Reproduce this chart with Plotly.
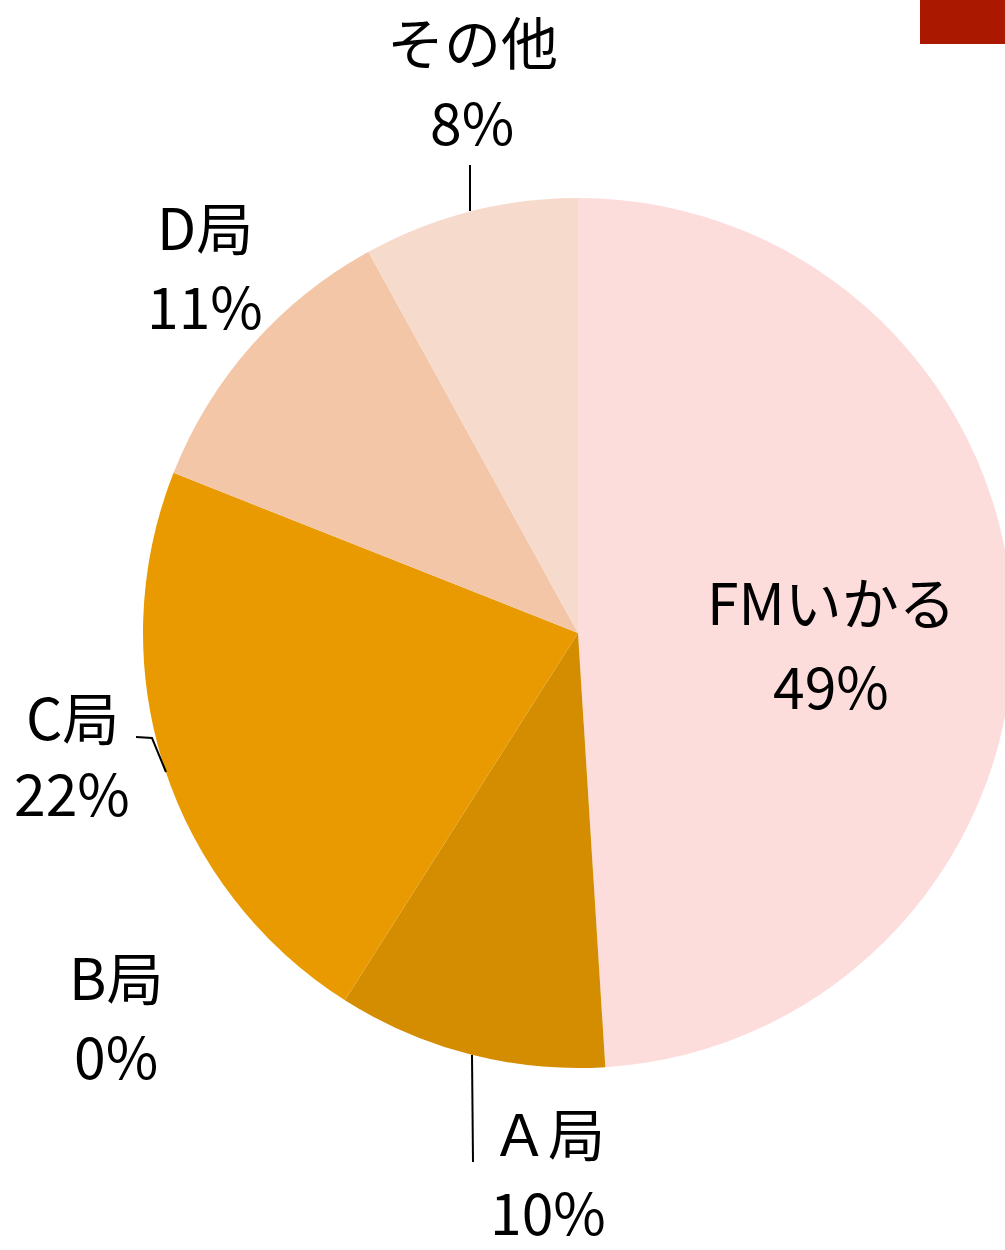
import plotly.graph_objects as go

# ---- data ----
categories = ["FMいかる", "Ａ局", "B局", "C局", "D局", "その他"]
values = [49, 10, 0, 22, 11, 8]
colors = ["#FDDCDC", "#D48C00", "#B5651D", "#E89A00", "#F3C6A8", "#F6DACB"]

# ---- layout constants (pixels) ----
W, H = 1020, 1250
cx, cy, R = 578, 633, 435

def px(x):
    return x / W

def py(y):
    return 1 - y / H

# label line centers (pixels): (x, y of name line, y of percent line)
label_pos = {
    "FMいかる": (831, 600, 684),
    "Ａ局": (548, 1131, 1210),
    "B局": (116, 975, 1054),
    "C局": (72, 715, 791),
    "D局": (205, 225, 304),
    "その他": (472, 40, 120),
}

fig = go.Figure(go.Pie(
    labels=categories,
    values=values,
    marker=dict(colors=colors, line=dict(width=0)),
    sort=False,
    direction="clockwise",
    rotation=0,
    textinfo="none",
    hoverinfo="label+percent",
    domain=dict(x=[px(cx - R), px(cx + R)], y=[py(cy + R), py(cy - R)]),
    showlegend=False,
))

font = dict(family="Noto Sans CJK JP, sans-serif", size=57, color="black")
total = sum(values)
for c, v in zip(categories, values):
    x, y1, y2 = label_pos[c]
    for txt, yy in ((c, y1), (f"{round(100 * v / total)}%", y2)):
        fig.add_annotation(
            x=px(x), y=py(yy), xref="paper", yref="paper",
            text=txt, showarrow=False, font=font, align="center",
            xanchor="center", yanchor="middle",
        )

line = dict(color="black", width=2)
# leader lines
fig.add_shape(type="line", xref="paper", yref="paper",
              x0=px(470), y0=py(165), x1=px(470), y1=py(211), line=line)
fig.add_shape(type="line", xref="paper", yref="paper",
              x0=px(472), y0=py(1055), x1=px(473), y1=py(1162), line=line)
fig.add_shape(type="path", xref="paper", yref="paper",
              path=f"M {px(136)} {py(737)} L {px(152)} {py(738)} L {px(166)} {py(772)}",
              line=line)
# red decorative block top-right
fig.add_shape(type="rect", xref="paper", yref="paper",
              x0=px(920), y0=py(44), x1=px(1020), y1=py(0),
              fillcolor="#AA1800", line=dict(width=0))

fig.update_layout(
    width=W, height=H, autosize=False,
    margin=dict(l=0, r=0, t=0, b=0),
    paper_bgcolor="white", plot_bgcolor="white",
)

fig.write_html(
    "out.html",
    config={"displayModeBar": False},
    post_script="document.body.style.overflow='hidden';document.documentElement.style.overflow='hidden';document.body.style.margin='0';",
)
